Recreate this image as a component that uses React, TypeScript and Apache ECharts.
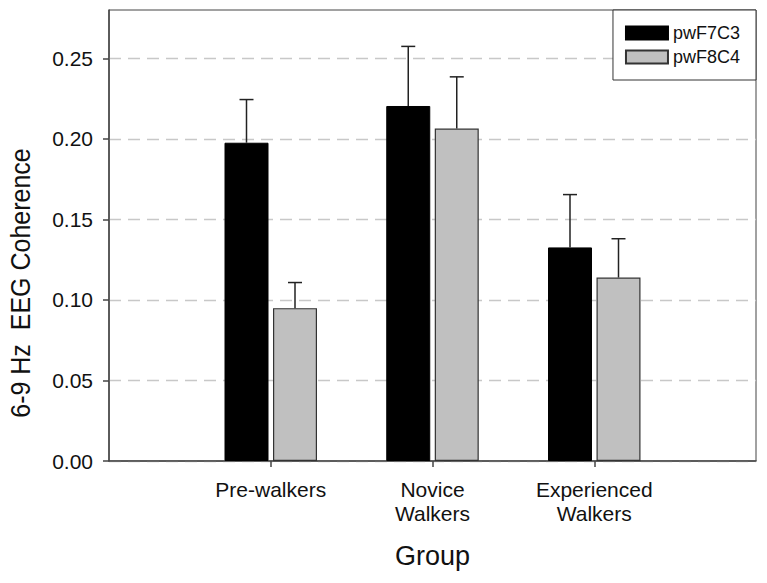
import React, { useEffect, useRef } from "react";
import * as echarts from "echarts";

const categories = ["Pre-walkers", "Novice\nWalkers", "Experienced\nWalkers"];
const positions = [1, 2, 3];
const f7c3Mean = [0.1976, 0.2204, 0.1326];
const f7c3Err = [0.0268, 0.037, 0.0328];
const f8c4Mean = [0.0949, 0.2064, 0.1139];
const f8c4Err = [0.0159, 0.0321, 0.0241];
const yTicks = [0, 0.05, 0.1, 0.15, 0.2, 0.25];
const seriesNames = ["pwF7C3", "pwF8C4"];
const yTitle = "6-9 Hz  EEG Coherence";
const xTitle = "Group";

const FONT = "'Liberation Sans', Arial, Helvetica, sans-serif";
const BAR_W = 44;
const BAR_GAP = 4.5;

export default function App() {
  const ref = useRef<HTMLDivElement>(null);
  useEffect(() => {
    if (!ref.current) return;
    const chart = echarts.init(ref.current, null, { renderer: "svg" });
    const off = BAR_W / 2 + BAR_GAP / 2;
    const errSeries = (name: string, mean: number[], err: number[], dx: number) => ({
      type: "custom",
      name: name + "-err",
      z: 5,
      silent: true,
      encode: { x: 0, y: 1 },
      data: positions.map((p, i) => [p, mean[i], err[i]]),
      renderItem: (params: any, api: any) => {
        const x = api.value(0);
        const y = api.value(1);
        const e = api.value(2);
        const b = api.coord([x, y]);
        const t = api.coord([x, y + e]);
        const px = b[0] + dx;
        const st = { stroke: "#222", lineWidth: 1.5 };
        return {
          type: "group",
          children: [
            { type: "line", shape: { x1: px, y1: b[1], x2: px, y2: t[1] }, style: st },
            { type: "line", shape: { x1: px - 7, y1: t[1], x2: px + 7, y2: t[1] }, style: st },
          ],
        };
      },
    });
    chart.setOption({
      animation: false,
      textStyle: { fontFamily: FONT },
      grid: {
        left: 109,
        right: 11,
        top: 10,
        bottom: 122,
        show: true,
        borderColor: "#444",
        borderWidth: 1,
        backgroundColor: "#fff",
      },
      graphic: [
        {
          type: "text",
          x: 21,
          y: 283,
          rotation: Math.PI / 2,
          scaleY: 1.12,
          style: {
            text: yTitle,
            fontSize: 25,
            fontFamily: FONT,
            fill: "#111",
            textAlign: "center",
            textVerticalAlign: "middle",
          },
        },
      ],
      legend: {
        orient: "vertical",
        right: 11,
        top: 10,
        padding: [14, 16, 14, 12],
        itemWidth: 42,
        itemHeight: 13,
        itemGap: 6,
        icon: "rect",
        backgroundColor: "#fff",
        borderColor: "#333",
        borderWidth: 1,
        borderRadius: 0,
        textStyle: { fontSize: 18, color: "#111", fontFamily: FONT },
        data: seriesNames,
      },
      xAxis: {
        type: "value",
        min: 0,
        max: 4,
        interval: 1,
        name: xTitle,
        nameLocation: "middle",
        nameGap: 81,
        nameTextStyle: { fontSize: 27, color: "#111", fontFamily: FONT },
        axisLine: { show: true, lineStyle: { color: "#444", width: 1.5 } },
        axisTick: {
          show: true,
          length: 6,
          customValues: positions,
          lineStyle: { color: "#444", width: 1.5 },
        },
        axisLabel: {
          customValues: positions,
          fontSize: 21,
          lineHeight: 24,
          margin: 16,
          color: "#111",
          fontFamily: FONT,
          formatter: (v: number) => {
            const i = positions.indexOf(v);
            return i >= 0 ? categories[i] : "";
          },
        },
        splitLine: { show: false },
      },
      yAxis: {
        type: "value",
        min: 0,
        max: 0.28,
        interval: 0.05,
        axisLine: { show: true, lineStyle: { color: "#444", width: 1.5 } },
        axisTick: {
          show: true,
          length: 6,
          customValues: yTicks,
          lineStyle: { color: "#444", width: 1.5 },
        },
        axisLabel: {
          customValues: yTicks,
          fontSize: 21,
          margin: 16,
          color: "#111",
          fontFamily: FONT,
          formatter: (v: number) => v.toFixed(2),
        },
        splitLine: {
          show: true,
          lineStyle: { color: "#c8c8c8", width: 1.3, type: [12, 7] },
        },
      },
      series: [
        {
          type: "bar",
          name: seriesNames[0],
          data: positions.map((p, i) => [p, f7c3Mean[i]]),
          barWidth: BAR_W,
          barGap: (BAR_GAP / BAR_W) * 100 + "%",
          itemStyle: { color: "#000", borderColor: "#000", borderWidth: 1 },
          z: 3,
        },
        {
          type: "bar",
          name: seriesNames[1],
          data: positions.map((p, i) => [p, f8c4Mean[i]]),
          barWidth: BAR_W,
          barGap: (BAR_GAP / BAR_W) * 100 + "%",
          itemStyle: { color: "#c0c0c0", borderColor: "#333", borderWidth: 1.2 },
          z: 3,
        },
        errSeries(seriesNames[0], f7c3Mean, f7c3Err, -off),
        errSeries(seriesNames[1], f8c4Mean, f8c4Err, off),
      ],
    });
    return () => chart.dispose();
  }, []);
  return (
    <div
      ref={ref}
      style={{ position: "fixed", left: 0, top: 0, width: 767, height: 583, background: "#fff" }}
    />
  );
}
